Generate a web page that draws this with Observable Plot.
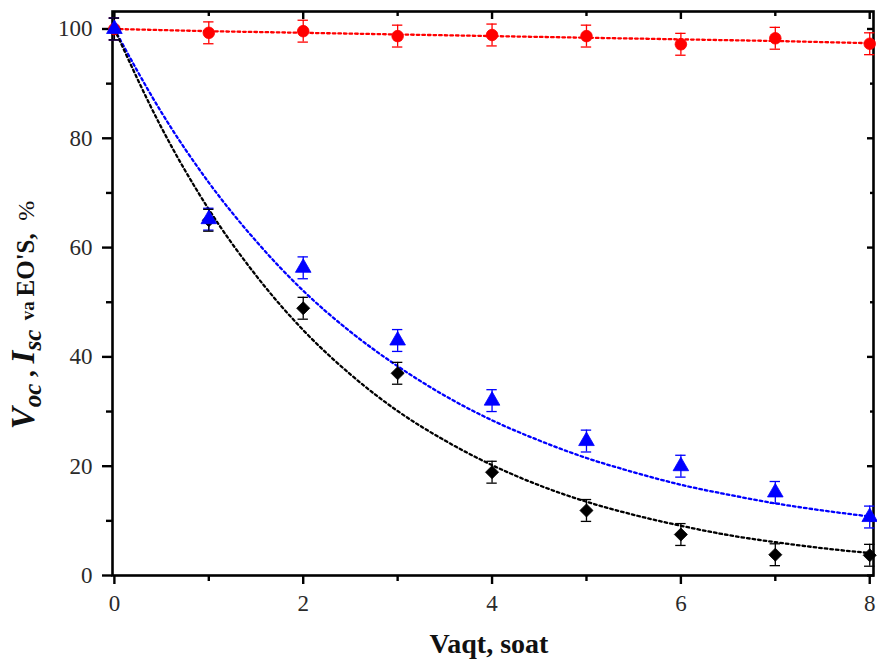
<!DOCTYPE html>
<html><head><meta charset="utf-8">
<script src="https://cdn.jsdelivr.net/npm/d3@7"></script>
<script src="https://cdn.jsdelivr.net/npm/@observablehq/plot@0.6"></script>
<style>
body{margin:0;background:#fff}
#chart{width:877px;height:663px}
</style>
</head><body><div id="chart"></div>
<script>
// Measured points (time in hours, percent)
const hours = [0, 1, 2, 3, 4, 5, 6, 7, 8];
const vocValues = [100, 99.3, 99.6, 98.7, 98.9, 98.7, 97.2, 98.3, 97.3];   // red circles
const iscValues = [100, 65.2, 56.3, 43.0, 32.0, 24.6, 20.0, 15.2, 10.7];   // blue triangles
const effValues = [100, 65.0, 48.9, 37.0, 18.9, 11.9, 7.5, 3.8, 3.7];      // black diamonds
const errValues = [2, 2, 2, 2, 2, 2, 2, 2, 2];

// Fitted curves
const fitHours = [0, 0.5, 1, 1.5, 2, 2.5, 3, 3.5, 4, 4.5, 5, 5.5, 6, 6.5, 7, 7.5, 8];
const vocFit = [100, 99.8, 99.6, 99.45, 99.3, 99.15, 99.0, 98.85, 98.7, 98.55, 98.4, 98.25, 98.1, 97.95, 97.8, 97.6, 97.4];
const iscFit = [100, 84.7, 71.9, 61.2, 52.1, 44.6, 38.3, 32.9, 28.4, 24.7, 21.5, 18.9, 16.6, 14.8, 13.2, 11.9, 10.8];
const effFit = [100, 81.9, 67.0, 54.9, 44.9, 36.8, 30.1, 24.7, 20.2, 16.5, 13.5, 11.1, 9.1, 7.4, 6.1, 5.0, 4.1];

const xTicks = [0, 2, 4, 6, 8];
const xMinor = [1, 3, 5, 7];
const yTicks = [0, 20, 40, 60, 80, 100];
const yMinor = [10, 30, 50, 70, 90];

const series = [
  {name: "Voc", color: "#ff0000", symbol: "circle", r: 5.8, values: vocValues, fit: vocFit},
  {name: "Isc", color: "#0000ff", symbol: "triangle", r: 5.8, values: iscValues, fit: iscFit},
  {name: "EOS", color: "#000000", symbol: "diamond2", r: 5.9, values: effValues, fit: effFit}
];

const points = series.flatMap(s => hours.map((h, i) => ({x: h, y: s.values[i], e: errValues[i], name: s.name})));
const fits = series.flatMap(s => fitHours.map((h, i) => ({x: h, y: s.fit[i], name: s.name})));

const capHalf = 0.055;
const serif = "Liberation Serif";

const marks = [
  Plot.frame({stroke: "#000", strokeWidth: 2.6}),
  // bottom axis
  Plot.axisX({ticks: xTicks, tickSize: 9, tickPadding: 10, strokeWidth: 2.4, label: null, tickFormat: d => d, fontSize: 23, fontFamily: serif, fill: "#2a2a2a"}),
  Plot.axisX({ticks: xMinor, tickSize: 6, strokeWidth: 2.4, label: null, tickFormat: () => ""}),
  // top axis (inward)
  Plot.axisX({anchor: "top", ticks: xTicks, tickSize: -7, strokeWidth: 2.4, label: null, tickFormat: () => ""}),
  Plot.axisX({anchor: "top", ticks: xMinor, tickSize: -4, strokeWidth: 2.4, label: null, tickFormat: () => ""}),
  // left axis
  Plot.axisY({ticks: yTicks, tickSize: 10, tickPadding: 10, strokeWidth: 2.4, label: null, tickFormat: d => d, fontSize: 23, fontFamily: serif, fill: "#2a2a2a"}),
  Plot.axisY({ticks: yMinor, tickSize: 6, strokeWidth: 2.4, label: null, tickFormat: () => ""}),
  // right axis (inward)
  Plot.axisY({anchor: "right", ticks: yTicks, tickSize: -7, strokeWidth: 2.4, label: null, tickFormat: () => ""}),
  Plot.axisY({anchor: "right", ticks: yMinor, tickSize: -4, strokeWidth: 2.4, label: null, tickFormat: () => ""}),
];

for (const s of series) {
  marks.push(Plot.line(fits.filter(d => d.name === s.name), {x: "x", y: "y", stroke: s.color, strokeWidth: 2.3, strokeDasharray: "2.6,3", curve: "monotone-x"}));
}
for (const s of series) {
  const pts = points.filter(d => d.name === s.name);
  marks.push(Plot.ruleX(pts, {x: "x", y1: d => d.y - d.e, y2: d => d.y + d.e, stroke: s.color, strokeWidth: 1.3}));
  marks.push(Plot.ruleY(pts, {y: d => d.y + d.e, x1: d => d.x - capHalf, x2: d => d.x + capHalf, stroke: s.color, strokeWidth: 1.3}));
  marks.push(Plot.ruleY(pts, {y: d => d.y - d.e, x1: d => d.x - capHalf, x2: d => d.x + capHalf, stroke: s.color, strokeWidth: 1.3}));
}
// draw black, red, then blue so that blue sits on top at x=0
for (const name of ["EOS", "Voc", "Isc"]) {
  const s = series.find(t => t.name === name);
  marks.push(Plot.dot(points.filter(d => d.name === name), {x: "x", y: "y", symbol: s.symbol, r: s.r, fill: s.color, stroke: s.color, strokeWidth: 0.8}));
}

const plot = Plot.plot({
  width: 877,
  height: 663,
  marginLeft: 112,
  marginRight: 4,
  marginTop: 11,
  marginBottom: 88,
  style: {background: "#fff", overflow: "visible"},
  x: {domain: [-0.02, 8.04]},
  y: {domain: [0, 103.2]},
  marks
});

document.getElementById("chart").appendChild(plot);

const svg = d3.select(plot);

// x label
svg.append("text")
  .attr("x", 489).attr("y", 653)
  .attr("text-anchor", "middle")
  .attr("font-family", serif)
  .attr("font-weight", "bold")
  .attr("font-size", 28)
  .attr("fill", "#111")
  .text("Vaqt, soat");

// y label with subscripts
const yl = svg.append("text")
  .attr("transform", "translate(34,315) rotate(-90)")
  .attr("text-anchor", "middle")
  .attr("font-family", serif)
  .attr("font-weight", "bold")
  .attr("fill", "#111");
yl.append("tspan").attr("font-style", "italic").attr("font-size", 33).text("V");
yl.append("tspan").attr("font-style", "italic").attr("font-size", 25).attr("dy", 7).text("oc");
yl.append("tspan").attr("font-size", 27).attr("dy", -7).text(" , ");
yl.append("tspan").attr("font-style", "italic").attr("font-size", 33).text("I");
yl.append("tspan").attr("font-style", "italic").attr("font-size", 25).attr("dy", 7).text("sc");
yl.append("tspan").attr("font-size", 19).attr("dy", -7).text("  va ");
yl.append("tspan").attr("font-size", 25).text("EO'S,  ");
yl.append("tspan").attr("font-size", 24).attr("font-weight", "normal").text("%");
</script>
</body></html>
